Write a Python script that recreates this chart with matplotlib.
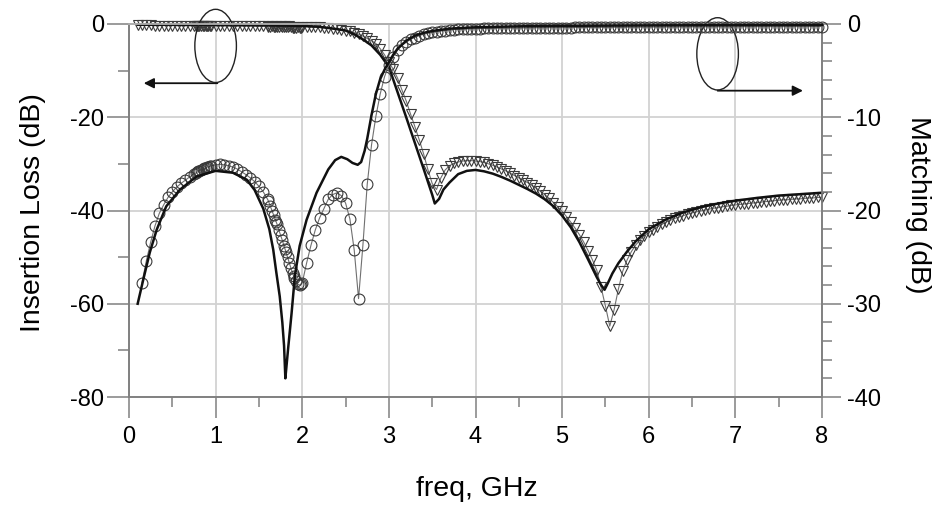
import numpy as np
import matplotlib
matplotlib.use("Agg")
import matplotlib.pyplot as plt
from matplotlib.patches import Ellipse
from matplotlib.ticker import MultipleLocator

plt.rcParams['font.family'] = ['Liberation Sans', 'DejaVu Sans']

# ---- simulated insertion loss |S21| (dB, left axis) ----
f_s21_sim = [0.10, 0.50, 1.00, 1.50, 2.00, 2.20, 2.30, 2.40, 2.50, 2.60, 2.70, 2.80,
             2.90, 3.00, 3.10, 3.20, 3.30, 3.40, 3.50, 3.53, 3.58, 3.63, 3.70, 3.80,
             3.90, 4.00, 4.10, 4.20, 4.30, 4.40, 4.50, 4.60, 4.70, 4.80, 4.90, 5.00,
             5.10, 5.20, 5.30, 5.40, 5.45, 5.49, 5.53, 5.58, 5.65, 5.75, 5.85, 6.00,
             6.20, 6.40, 6.60, 6.80, 7.00, 7.25, 7.50, 7.75, 8.00]
s21_sim = [-0.15, -0.15, -0.2, -0.25, -0.4, -0.6, -0.85, -1.1, -1.4, -2.2, -3.3, -4.6,
           -6.6, -9.2, -14.6, -20.0, -25.5, -31.0, -36.6, -38.5, -37.5, -35.5, -34.0, -32.2,
           -31.5, -31.3, -31.6, -32.1, -32.8, -33.6, -34.5, -35.4, -36.4, -37.6, -39.1, -41.1,
           -43.6, -46.8, -50.5, -54.3, -56.0, -57.0, -55.5, -53.5, -51.3, -48.8, -46.6, -44.0,
           -41.9, -40.4, -39.3, -38.5, -37.9, -37.3, -36.8, -36.5, -36.2]

# ---- simulated matching |S11| (dB, right axis) ----
f_s11_sim = [0.10, 0.165, 0.24, 0.32, 0.43, 0.59, 0.78, 1.00, 1.20, 1.36, 1.45, 1.55,
             1.62, 1.665, 1.70, 1.74, 1.77, 1.79, 1.805, 1.82, 1.837, 1.877, 1.915, 1.97,
             2.05, 2.165, 2.30, 2.38, 2.45, 2.52, 2.58, 2.64, 2.68, 2.72, 2.75, 2.80,
             2.85, 2.90, 2.95, 3.00, 3.05, 3.10, 3.20, 3.30, 3.40, 3.50, 3.70, 4.00,
             4.50, 5.00, 6.00, 7.00, 8.00]
s11_sim = [-30.0, -27.4, -24.5, -22.05, -19.55, -17.75, -16.35, -15.75, -15.95, -16.7, -17.8, -19.8,
           -22.0, -24.2, -26.6, -29.2, -32.0, -34.5, -38.0, -36.5, -34.8, -31.0, -27.0, -23.8,
           -21.0, -18.1, -15.6, -14.6, -14.25, -14.5, -14.9, -15.1, -14.8, -13.6, -12.3, -9.75,
           -7.5, -5.9, -4.9, -4.1, -3.3, -2.65, -1.8, -1.25, -0.95, -0.75, -0.5, -0.35,
           -0.25, -0.2, -0.15, -0.12, -0.1]

# ---- measured |S21| (dB), sweep 0.10-8.00 GHz in 0.05 GHz steps ----
s21_meas = [
    -0.3, -0.3, -0.3, -0.3, -0.35, -0.35, -0.35, -0.35, -0.35, -0.4,
    -0.4, -0.4, -0.4, -0.4, -0.4, -0.4, -0.4, -0.4, -0.4, -0.4,
    -0.4, -0.45, -0.45, -0.45, -0.45, -0.45, -0.45, -0.5, -0.5, -0.5,
    -0.5, -0.5, -0.5, -0.5, -0.5, -0.5, -0.55, -0.55, -0.6, -0.6,
    -0.65, -0.7, -0.75, -0.8, -0.9, -1.0, -1.1, -1.25, -1.4, -1.6,
    -1.85, -2.2, -2.6, -3.1, -3.6, -4.2, -5.3, -6.6, -8.2, -9.7,
    -11.6, -14.1, -16.5, -19.3, -22.0, -24.8, -27.8, -31.2, -34.2, -35.5,
    -33.0, -31.3, -30.4, -29.9, -29.6, -29.4, -29.3, -29.3, -29.4, -29.5,
    -29.7, -30.0, -30.3, -30.7, -31.1, -31.5, -32.0, -32.5, -33.0, -33.5,
    -34.0, -34.6, -35.2, -35.9, -36.6, -37.4, -38.3, -39.2, -40.2, -41.3,
    -42.5, -43.8, -45.2, -46.8, -48.6, -50.6, -52.8, -56.5, -60.5, -64.8,
    -61.3, -56.8, -53.0, -50.6, -48.8, -47.4, -46.3, -45.4, -44.7, -44.1,
    -43.5, -43.0, -42.5, -42.1, -41.7, -41.4, -41.1, -40.8, -40.5, -40.3,
    -40.1, -39.9, -39.7, -39.5, -39.4, -39.2, -39.1, -38.9, -38.8, -38.7,
    -38.6, -38.5, -38.4, -38.3, -38.2, -38.1, -38.0, -37.9, -37.8, -37.7,
    -37.7, -37.6, -37.5, -37.5, -37.4, -37.3, -37.3, -37.2, -37.2]

# ---- measured |S11| (dB), sweep 0.15-8.00 GHz in 0.05 GHz steps ----
s11_meas = [
    -27.75, -25.4, -23.4, -21.65, -20.3, -19.4, -18.6, -18.0, -17.5, -17.1,
    -16.75, -16.4, -16.1, -15.8, -15.55, -15.35, -15.2, -15.1, -15.05, -15.1,
    -15.2, -15.35, -15.55, -15.85, -16.15, -16.5, -16.9, -17.4, -18.0, -18.8,
    -20.0, -21.25, -22.65, -24.1, -25.6, -27.0, -27.9, -27.75, -25.65, -23.75,
    -22.1, -20.8, -19.8, -18.8, -18.3, -18.1, -18.4, -19.2, -20.9, -24.25,
    -29.45, -23.75, -17.2, -12.95, -9.9, -7.5, -5.65, -4.4, -3.5, -2.8,
    -2.3, -1.95, -1.65, -1.45, -1.25, -1.1, -1.0, -0.9, -0.82, -0.75,
    -0.7, -0.65, -0.6, -0.57, -0.55, -0.53, -0.51, -0.5, -0.49, -0.48,
    -0.47, -0.46, -0.46, -0.45, -0.44, -0.44, -0.43, -0.43, -0.42, -0.42,
    -0.41, -0.41, -0.40, -0.40, -0.39, -0.39, -0.39, -0.38, -0.38, -0.38,
    -0.37, -0.37, -0.37, -0.36, -0.36, -0.36, -0.36, -0.35, -0.35, -0.35,
    -0.35, -0.34, -0.34, -0.34, -0.34, -0.33, -0.33, -0.33, -0.33, -0.33,
    -0.32, -0.32, -0.32, -0.32, -0.32, -0.31, -0.31, -0.31, -0.31, -0.31,
    -0.31, -0.30, -0.30, -0.30, -0.30, -0.30, -0.30, -0.30, -0.29, -0.29,
    -0.29, -0.29, -0.29, -0.29, -0.29, -0.29, -0.28, -0.28, -0.28, -0.28,
    -0.28, -0.28, -0.28, -0.28, -0.28, -0.27, -0.27, -0.27]

# ---- extra measured points from the finer sweep segments ----
f_fine = [0.77, 0.79, 0.81, 0.83, 0.87, 0.89, 0.91, 0.93,
          1.61, 1.63, 1.67, 1.69, 1.71, 1.73, 1.77, 1.79, 1.81, 1.83, 1.87, 1.89,
          1.91, 1.93, 1.97, 1.99]
s21_fine = [-0.4, -0.4, -0.4, -0.4, -0.4, -0.4, -0.4, -0.4,
            -0.6, -0.6, -0.65, -0.65, -0.7, -0.7, -0.7, -0.75, -0.75, -0.75, -0.75, -0.8,
            -0.8, -0.8, -0.8, -0.8]
s11_fine = [-15.98, -15.86, -15.74, -15.65, -15.47, -15.39, -15.32, -15.26,
            -19.0, -19.5, -20.5, -21.0, -21.5, -22.1, -23.2, -23.8, -24.4, -25.0, -26.2, -26.75,
            -27.2, -27.6, -28.0, -27.85]

f_s21_meas = 0.10 + 0.05 * np.arange(len(s21_meas))
f_s11_meas = 0.15 + 0.05 * np.arange(len(s11_meas))


def merged(f_a, v_a, f_b, v_b):
    f = np.concatenate([np.asarray(f_a, float), np.asarray(f_b, float)])
    v = np.concatenate([np.asarray(v_a, float), np.asarray(v_b, float)])
    order = np.argsort(f, kind="stable")
    return f[order], v[order]


f21m, v21m = merged(f_s21_meas, s21_meas, f_fine, s21_fine)
f11m, v11m = merged(f_s11_meas, s11_meas, f_fine, s11_fine)

W, H = 944, 508
fig = plt.figure(figsize=(W / 100, H / 100), dpi=100)
x0, x1, y0, y1 = 129, 822, 24, 397
ax = fig.add_axes([x0 / W, 1 - y1 / H, (x1 - x0) / W, (y1 - y0) / H])
ax2 = ax.twinx()

axis_grey = '#808080'
grid_grey = '#d2d2d2'

ax.set_xlim(0, 8)
ax.set_ylim(-80, 0)
ax2.set_ylim(-40, 0)

ax.xaxis.set_major_locator(MultipleLocator(1))
ax.xaxis.set_minor_locator(MultipleLocator(0.5))
ax.yaxis.set_major_locator(MultipleLocator(20))
ax.yaxis.set_minor_locator(MultipleLocator(10))
ax2.yaxis.set_major_locator(MultipleLocator(10))
ax2.yaxis.set_minor_locator(MultipleLocator(2))

ax.grid(True, which='major', color=grid_grey, lw=1.3, zorder=0)
ax.set_axisbelow(True)

for a in (ax, ax2):
    for side in ('left', 'right', 'bottom'):
        a.spines[side].set_color(axis_grey)
        a.spines[side].set_linewidth(1.2)
    a.spines['top'].set_color('#b0b0b0')
    a.spines['top'].set_linewidth(1.3)

ax.tick_params(axis='x', which='major', direction='out', length=15, width=1.1,
               color=axis_grey, labelsize=17, pad=6)
ax.tick_params(axis='x', which='minor', direction='out', length=7.5, width=1.1,
               color=axis_grey)
ax.tick_params(axis='y', which='major', direction='out', length=16, width=1.1,
               color=axis_grey, labelsize=17, pad=2)
ax.tick_params(axis='y', which='minor', direction='out', length=8, width=1.1,
               color=axis_grey)
ax2.tick_params(axis='y', which='major', direction='out', length=14, width=1.1,
                color=axis_grey, labelsize=17, pad=4)
ax2.tick_params(axis='y', which='minor', direction='out', length=7.5, width=1.1,
                color=axis_grey)

ax.set_yticklabels([f"{int(t)}" for t in ax.get_yticks()])
ax2.set_yticklabels([f"{int(t)}" for t in ax2.get_yticks()])

mk = dict(mfc='none', mec='#3a3a3a', mew=0.8, ms=7.8, color='#707070', lw=0.8)

# insertion loss: measured triangles + simulated solid line
ax.plot(f21m, v21m, marker='v', clip_on=False, zorder=3, **mk)
ax.plot(f_s21_sim, s21_sim, color='#111111', lw=1.8, zorder=4,
        solid_joinstyle='round', clip_on=False)

# matching: measured circles + simulated solid line
ax2.plot(f11m, v11m, marker='o', clip_on=False, zorder=3, **mk)
ax2.plot(f_s11_sim, s11_sim, color='#111111', lw=1.8, zorder=4,
         solid_joinstyle='round', clip_on=False)

# curve group markers with arrows pointing at the matching axis
ell_kw = dict(fill=False, ec='#222222', lw=1.0, clip_on=False, zorder=5)
ax.add_patch(Ellipse((1.0, -4.7), 0.48, 15.7, **ell_kw))
ax.add_patch(Ellipse((6.795, -6.4), 0.48, 15.5, **ell_kw))
arrow_kw = dict(arrowstyle='-|>', color='#111111', lw=1.3, mutation_scale=15,
                shrinkA=0, shrinkB=0)
ax.annotate('', xy=(0.17, -12.7), xytext=(1.02, -12.7), arrowprops=arrow_kw,
            annotation_clip=False)
ax.annotate('', xy=(7.78, -14.3), xytext=(6.795, -14.3), arrowprops=arrow_kw,
            annotation_clip=False)

fig.text(33 / W, 1 - 213 / H, 'Insertion Loss (dB)', rotation=90,
         ha='center', va='center', fontsize=20.5)
fig.text(918 / W, 1 - 205 / H, 'Matching (dB)', rotation=270,
         ha='center', va='center', fontsize=20.5)
fig.text(477 / W, 1 - 489 / H, 'freq, GHz', ha='center', va='center', fontsize=20.5)

fig.savefig('out.png', dpi=100)
